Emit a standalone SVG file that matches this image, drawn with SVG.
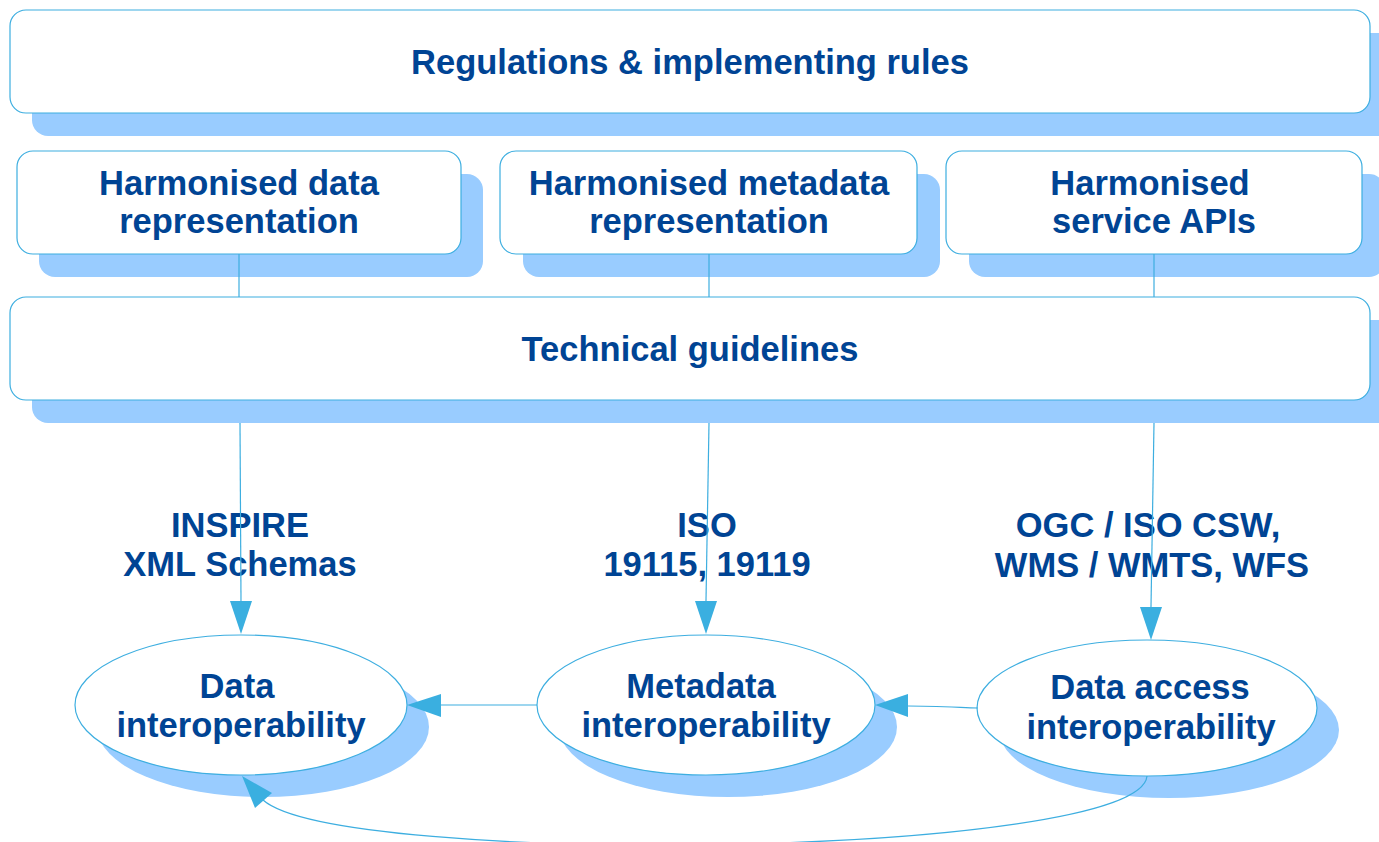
<svg xmlns="http://www.w3.org/2000/svg" width="1379" height="842" viewBox="0 0 1379 842">
<style>
.box{fill:#fff;stroke:#3daee0;stroke-width:1.2}
.sh{fill:#99ccff}
.t{font-family:"Liberation Sans",Arial,sans-serif;font-weight:bold;font-size:34.5px;fill:#004494;text-anchor:middle}
.c{fill:none;stroke:#3daee0;stroke-width:1.2}
.ah{fill:#3aafe0}
</style>
<rect width="1379" height="842" fill="#fff"/>
<g id="regulations">
<rect class="sh" x="32" y="33" width="1370" height="103" rx="16"/>
<rect class="box" x="10" y="10" width="1360" height="103" rx="16"/>
<text class="t" x="690" y="74">Regulations &amp; implementing rules</text>
</g>
<g id="harm-data">
<rect class="sh" x="39" y="174" width="444" height="103" rx="16"/>
<rect class="box" x="17" y="151" width="444" height="103" rx="16"/>
<text class="t" x="239" y="195">Harmonised data</text>
<text class="t" x="239" y="233">representation</text>
</g>
<g id="harm-metadata">
<rect class="sh" x="523" y="174" width="417" height="103" rx="16"/>
<rect class="box" x="500" y="151" width="417" height="103" rx="16"/>
<text class="t" x="709" y="195">Harmonised metadata</text>
<text class="t" x="709" y="233">representation</text>
</g>
<g id="harm-service">
<rect class="sh" x="969" y="174" width="416" height="103" rx="16"/>
<rect class="box" x="946" y="151" width="416" height="103" rx="16"/>
<text class="t" x="1150" y="195">Harmonised</text>
<text class="t" x="1154" y="233">service APIs</text>
</g>
<g id="connectors">
<line class="c" x1="239" y1="254" x2="239" y2="297"/>
<line class="c" x1="709" y1="254" x2="709" y2="297"/>
<line class="c" x1="1154" y1="254" x2="1154" y2="297"/>
</g>
<g id="technical">
<rect class="sh" x="32" y="320" width="1370" height="103" rx="16"/>
<rect class="box" x="10" y="297" width="1360" height="103" rx="16"/>
<text class="t" x="690" y="361">Technical guidelines</text>
</g>
<g id="labels">
<text class="t" x="240" y="537">INSPIRE</text>
<text class="t" x="240" y="576">XML Schemas</text>
<text class="t" x="707" y="537">ISO</text>
<text class="t" x="707" y="576">19115, 19119</text>
<text class="t" x="1148" y="537">OGC / ISO CSW,</text>
<text class="t" x="1152" y="577">WMS / WMTS, WFS</text>
</g>
<g id="data-interop">
<ellipse class="sh" cx="263" cy="727" rx="166" ry="70"/>
<ellipse class="box" cx="241" cy="705" rx="166" ry="70"/>
<text class="t" x="237" y="698">Data</text>
<text class="t" x="241" y="737">interoperability</text>
</g>
<g id="metadata-interop">
<ellipse class="sh" cx="728" cy="727" rx="169" ry="70"/>
<ellipse class="box" cx="706" cy="705" rx="169" ry="70"/>
<text class="t" x="701" y="698">Metadata</text>
<text class="t" x="706" y="737">interoperability</text>
</g>
<g id="access-interop">
<ellipse class="sh" cx="1169" cy="730" rx="170" ry="68"/>
<ellipse class="box" cx="1147" cy="708" rx="170" ry="68"/>
<text class="t" x="1150" y="699">Data access</text>
<text class="t" x="1151" y="739">interoperability</text>
</g>
<g id="arrows">
<path class="c" d="M240,423 L241,601"/>
<polygon class="ah" points="230,601 252,601 241,634"/>
<path class="c" d="M709,423 L706,601"/>
<polygon class="ah" points="695,601 717,601 706,634"/>
<path class="c" d="M1154,423 L1151,607"/>
<polygon class="ah" points="1140,607 1162,607 1151,640"/>
<path class="c" d="M537,705 L441,705"/>
<polygon class="ah" points="441,694 441,717 407,705"/>
<path class="c" d="M978,708 C950,707 930,706 908,706"/>
<polygon class="ah" points="908,694 908,717 875,705"/>
<path class="c" d="M1147,776 C1140,858 340,868 263,800"/>
<polygon class="ah" points="255,808 272,793 242,776"/>
</g>
</svg>
